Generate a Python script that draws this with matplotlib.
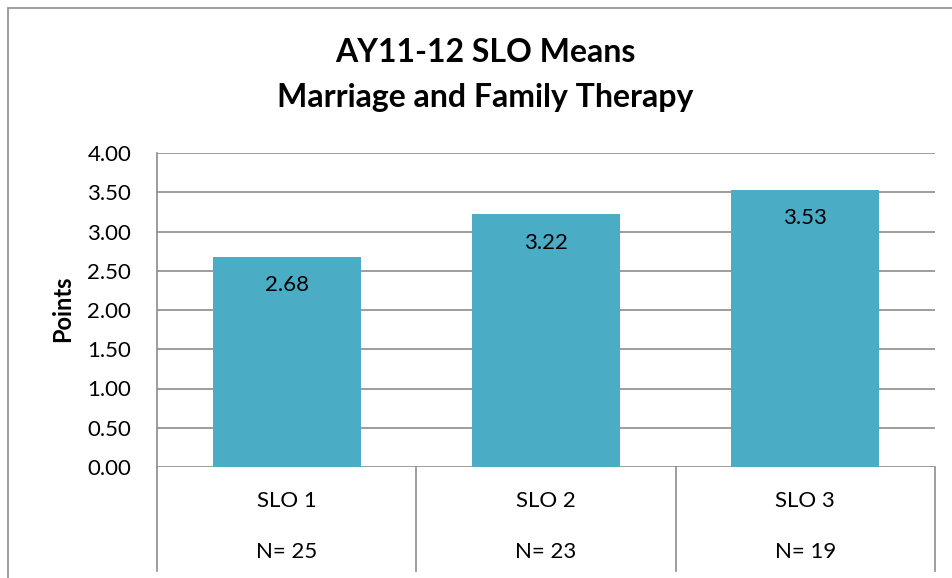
import matplotlib
matplotlib.use("Agg")
import matplotlib.pyplot as plt
from matplotlib.patches import Rectangle

plt.rcParams['font.family'] = ['Lato', 'DejaVu Sans']

categories = ["SLO 1", "SLO 2", "SLO 3"]
counts = ["N= 25", "N= 23", "N= 19"]
means = [2.68, 3.22, 3.53]
yticks = [0.0, 0.5, 1.0, 1.5, 2.0, 2.5, 3.0, 3.5, 4.0]

W, H = 953, 578
fig = plt.figure(figsize=(W / 100, H / 100), dpi=100)

# outer chart border
fig.patches.append(Rectangle((8 / W, -0.05), 1.2, 1 - 8 / H + 0.05,
                             transform=fig.transFigure, fill=False,
                             edgecolor="#8c8c8c", linewidth=1.2))

ax = fig.add_axes([157 / W, 1 - 467 / H, (935 - 157) / W, (467 - 153) / H])
grid_c = "#8c8c8c"
bar_c = "#4BACC6"
fs = 16

x = list(range(len(categories)))
ax.bar(x, means, width=0.57, color=bar_c, zorder=3)
ax.set_xlim(-0.5, len(categories) - 0.5)
ax.set_ylim(0, 4.0)
ax.set_yticks(yticks)
ax.set_yticklabels([f"{v:.2f}" for v in yticks], fontsize=fs)
ax.tick_params(axis='y', length=0, pad=18.5)
ax.set_xticks([])
for v in yticks:
    ax.axhline(v, color=grid_c, linewidth=1.2, zorder=1)
for s in ["top", "right", "bottom"]:
    ax.spines[s].set_visible(False)
ax.spines["left"].set_color(grid_c)
ax.spines["left"].set_linewidth(1.2)

for xi, v in zip(x, means):
    ax.annotate(f"{v:.2f}", (xi, v), xytext=(0, -20.5), textcoords="offset points",
                ha="center", va="center", fontsize=fs, zorder=4)

# category table below axis
trans = ax.get_xaxis_transform()
ax_h_px = 467 - 153
def yfrac(px):
    return (467 - px) / ax_h_px

for b in [-0.5, 0.5, 1.5, 2.5]:
    ax.plot([b, b], [0, yfrac(571)], transform=trans, color=grid_c,
            linewidth=1.2, clip_on=False)
for xi, c, n in zip(x, categories, counts):
    ax.text(xi, yfrac(501), c, transform=trans, ha="center", va="center", fontsize=fs)
    ax.text(xi, yfrac(552), n, transform=trans, ha="center", va="center", fontsize=fs)

fig.text(63 / W, 1 - 309 / H, "Points", rotation=90, ha="center", va="center",
         fontsize=17, fontweight="bold")

fig.text(485 / W, 1 - 52 / H, "AY11-12 SLO Means", ha="center", va="center",
         fontsize=23, fontweight="bold")
fig.text(485 / W, 1 - 98 / H, "Marriage and Family Therapy", ha="center", va="center",
         fontsize=23, fontweight="bold")

fig.savefig("out.png", dpi=100)
